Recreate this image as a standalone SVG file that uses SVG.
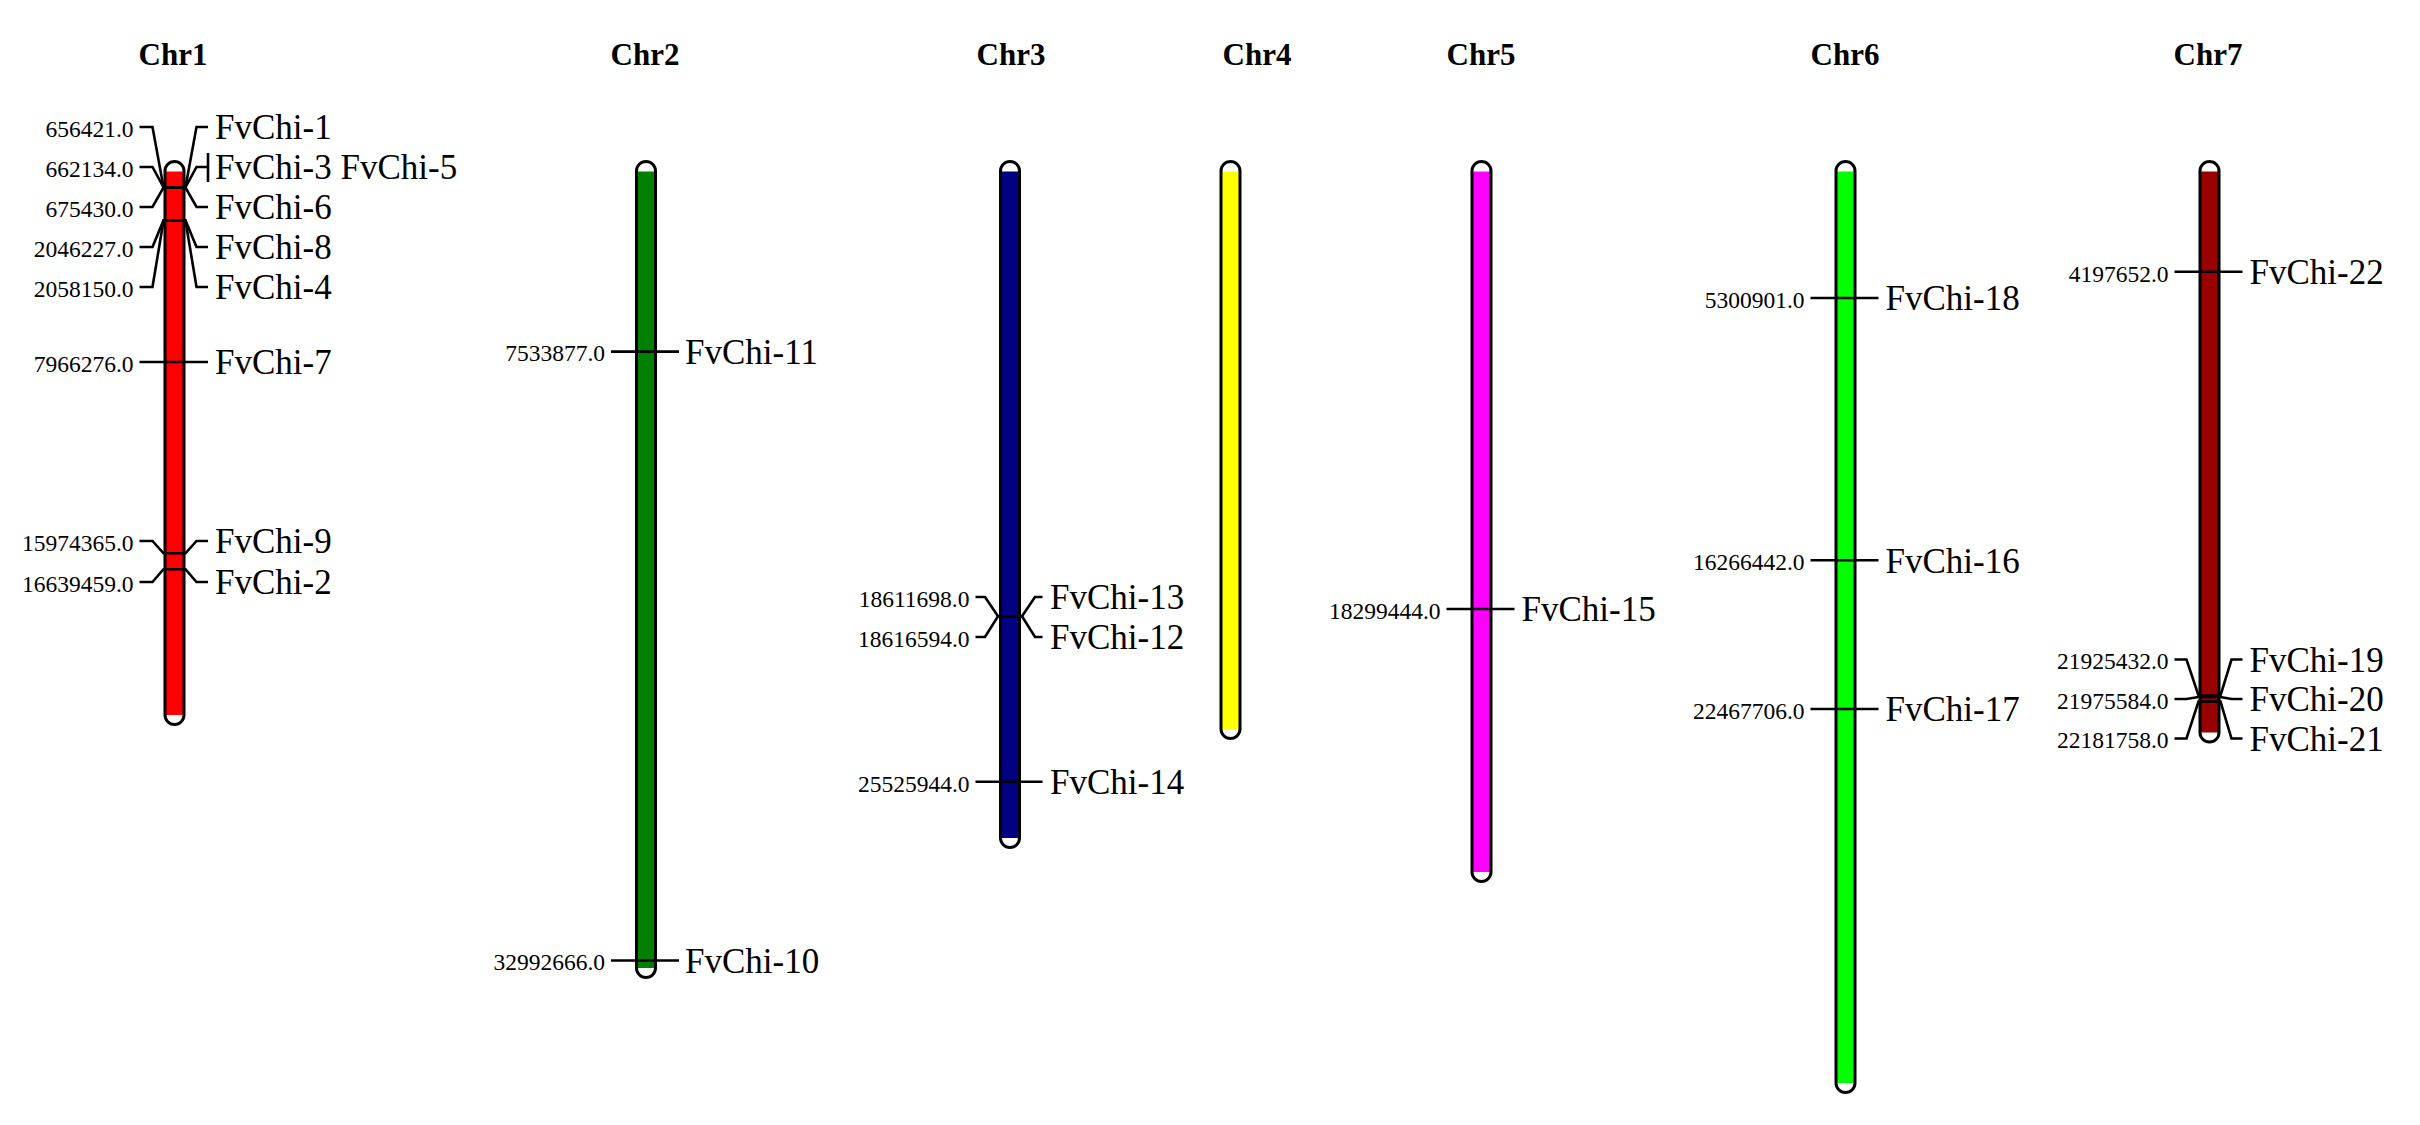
<svg xmlns="http://www.w3.org/2000/svg" width="2420" height="1125" viewBox="0 0 2420 1125">
<style>
.title{font-family:"Liberation Serif","Times New Roman",serif;font-weight:bold;font-size:31px;text-anchor:middle;fill:#000}
.pos{font-family:"Liberation Serif","Times New Roman",serif;font-size:23.5px;text-anchor:end;fill:#000}
.gene{font-family:"Liberation Serif","Times New Roman",serif;font-size:35px;fill:#000}
.outline{fill:none;stroke:#000;stroke-width:3}
.base{fill:#fff;stroke:none}
.link{fill:none;stroke:#000;stroke-width:2.6;stroke-linejoin:miter}
</style>
<rect width="2420" height="1125" fill="#fff"/>

<g id="chr1">
<text class="title" x="173" y="65">Chr1</text>
<rect class="base" x="165" y="161.5" width="19" height="563" rx="9.5"/>
<rect x="165" y="171.5" width="19" height="543.5" fill="#ff0000"/>
<rect class="outline" x="165" y="161.5" width="19" height="563" rx="9.5"/>
</g>
<g id="chr2">
<text class="title" x="645" y="65">Chr2</text>
<rect class="base" x="636.5" y="161.5" width="19" height="816" rx="9.5"/>
<rect x="636.5" y="171.5" width="19" height="796.5" fill="#008000"/>
<rect class="outline" x="636.5" y="161.5" width="19" height="816" rx="9.5"/>
</g>
<g id="chr3">
<text class="title" x="1011" y="65">Chr3</text>
<rect class="base" x="1000.5" y="161.5" width="19" height="686" rx="9.5"/>
<rect x="1000.5" y="171.5" width="19" height="666.5" fill="#000080"/>
<rect class="outline" x="1000.5" y="161.5" width="19" height="686" rx="9.5"/>
</g>
<g id="chr4">
<text class="title" x="1257" y="65">Chr4</text>
<rect class="base" x="1221" y="161.5" width="19" height="577" rx="9.5"/>
<rect x="1221" y="171.5" width="19" height="557.5" fill="#ffff00"/>
<rect class="outline" x="1221" y="161.5" width="19" height="577" rx="9.5"/>
</g>
<g id="chr5">
<text class="title" x="1481" y="65">Chr5</text>
<rect class="base" x="1472" y="161.5" width="19" height="720" rx="9.5"/>
<rect x="1472" y="171.5" width="19" height="700.5" fill="#ff00ff"/>
<rect class="outline" x="1472" y="161.5" width="19" height="720" rx="9.5"/>
</g>
<g id="chr6">
<text class="title" x="1845" y="65">Chr6</text>
<rect class="base" x="1836" y="161.5" width="19" height="931" rx="9.5"/>
<rect x="1836" y="171.5" width="19" height="911.5" fill="#00ff00"/>
<rect class="outline" x="1836" y="161.5" width="19" height="931" rx="9.5"/>
</g>
<g id="chr7">
<text class="title" x="2208" y="65">Chr7</text>
<rect class="base" x="2200" y="161.5" width="19" height="580.5" rx="9.5"/>
<rect x="2200" y="171.5" width="19" height="561" fill="#990000"/>
<rect class="outline" x="2200" y="161.5" width="19" height="580.5" rx="9.5"/>
</g>

<g id="connectors">
<!-- Chr1 c=174.5 -->
<path class="link" d="M139.5,127 H152.5 L163.5,187.2 H185.5 L196.5,127 H208"/>
<path class="link" d="M139.5,167 H152.5 L163.5,187.3 H185.5 L196.5,167 H208"/>
<path class="link" d="M208,153 V182"/>
<path class="link" d="M139.5,207 H152.5 L163.5,187.6 H185.5 L196.5,207 H208"/>
<path class="link" d="M139.5,247 H152.5 L163.5,220.4 H185.5 L196.5,247 H208"/>
<path class="link" d="M139.5,287 H152.5 L163.5,220.7 H185.5 L196.5,287 H208"/>
<path class="link" d="M139.5,362 H208"/>
<path class="link" d="M139.5,541 H152.5 L163.5,553.3 H185.5 L196.5,541 H208"/>
<path class="link" d="M139.5,582 H152.5 L163.5,569.2 H185.5 L196.5,582 H208"/>
<!-- Chr2 c=646 -->
<path class="link" d="M611,351.6 H679"/>
<path class="link" d="M611,960.5 H679"/>
<!-- Chr3 c=1010 -->
<path class="link" d="M975.5,597 H985 L998,616.3 H1022 L1035,597 H1042.5"/>
<path class="link" d="M975.5,637 H985 L998,616.4 H1022 L1035,637 H1042.5"/>
<path class="link" d="M975.5,781.8 H1042.5"/>
<!-- Chr5 c=1481.5 -->
<path class="link" d="M1446.5,609 H1514.5"/>
<!-- Chr6 c=1845.5 -->
<path class="link" d="M1810.5,298 H1878.5"/>
<path class="link" d="M1810.5,560.3 H1878.5"/>
<path class="link" d="M1810.5,709 H1878.5"/>
<!-- Chr7 c=2209.5 -->
<path class="link" d="M2174.5,271.8 H2242.5"/>
<path class="link" d="M2174.5,659.5 H2186.5 L2198.5,695.5 H2220.5 L2231.5,659.5 H2242.5"/>
<path class="link" d="M2174.5,699 H2186.5 L2198.5,697 H2220.5 L2231.5,699 H2242.5"/>
<path class="link" d="M2174.5,738.5 H2186.5 L2198.5,701.6 H2220.5 L2231.5,738.5 H2242.5"/>
</g>

<g id="labels">
<text class="pos" x="133.5" y="136.5">656421.0</text>
<text class="pos" x="133.5" y="176.5">662134.0</text>
<text class="pos" x="133.5" y="216.5">675430.0</text>
<text class="pos" x="133.5" y="256.5">2046227.0</text>
<text class="pos" x="133.5" y="296.5">2058150.0</text>
<text class="pos" x="133.5" y="371.5">7966276.0</text>
<text class="pos" x="133.5" y="550.5">15974365.0</text>
<text class="pos" x="133.5" y="591.5">16639459.0</text>
<text class="gene" x="215" y="139">FvChi-1</text>
<text class="gene" x="215" y="179">FvChi-3 FvChi-5</text>
<text class="gene" x="215" y="219">FvChi-6</text>
<text class="gene" x="215" y="259">FvChi-8</text>
<text class="gene" x="215" y="299">FvChi-4</text>
<text class="gene" x="215" y="374">FvChi-7</text>
<text class="gene" x="215" y="553">FvChi-9</text>
<text class="gene" x="215" y="594">FvChi-2</text>

<text class="pos" x="605" y="361">7533877.0</text>
<text class="pos" x="605" y="970">32992666.0</text>
<text class="gene" x="685" y="363.5">FvChi-11</text>
<text class="gene" x="685" y="972.5">FvChi-10</text>

<text class="pos" x="969.5" y="606.5">18611698.0</text>
<text class="pos" x="969.5" y="646.5">18616594.0</text>
<text class="pos" x="969.5" y="791.5">25525944.0</text>
<text class="gene" x="1050" y="609">FvChi-13</text>
<text class="gene" x="1050" y="649">FvChi-12</text>
<text class="gene" x="1050" y="794">FvChi-14</text>

<text class="pos" x="1440.5" y="618.5">18299444.0</text>
<text class="gene" x="1521.5" y="621">FvChi-15</text>

<text class="pos" x="1804.5" y="307.5">5300901.0</text>
<text class="pos" x="1804.5" y="570">16266442.0</text>
<text class="pos" x="1804.5" y="718.5">22467706.0</text>
<text class="gene" x="1885.5" y="310">FvChi-18</text>
<text class="gene" x="1885.5" y="572.5">FvChi-16</text>
<text class="gene" x="1885.5" y="721">FvChi-17</text>

<text class="pos" x="2168.5" y="281.5">4197652.0</text>
<text class="pos" x="2168.5" y="669">21925432.0</text>
<text class="pos" x="2168.5" y="708.5">21975584.0</text>
<text class="pos" x="2168.5" y="748">22181758.0</text>
<text class="gene" x="2249.5" y="284">FvChi-22</text>
<text class="gene" x="2249.5" y="671.5">FvChi-19</text>
<text class="gene" x="2249.5" y="711">FvChi-20</text>
<text class="gene" x="2249.5" y="750.5">FvChi-21</text>
</g>
</svg>
